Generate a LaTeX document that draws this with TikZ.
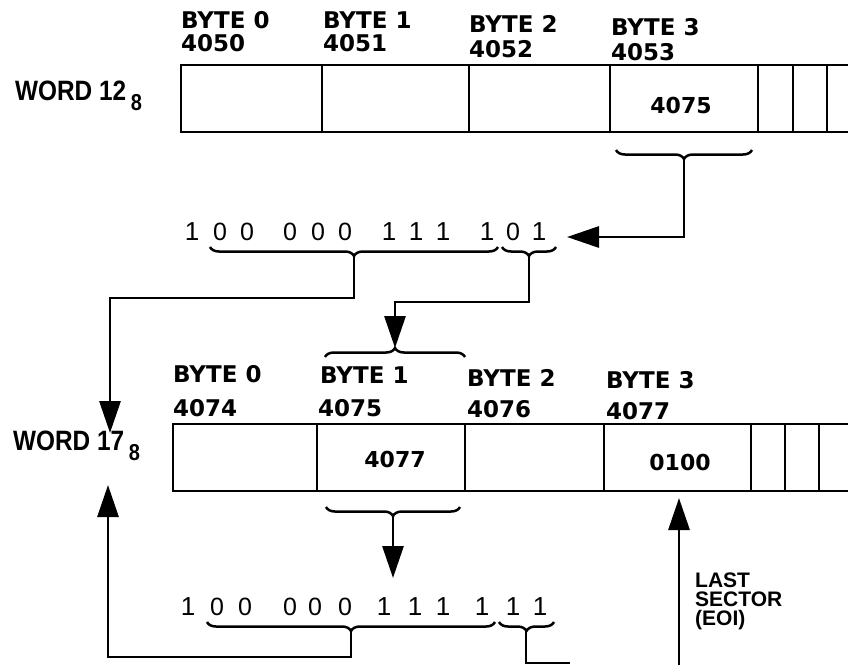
\documentclass[tikz,border=0pt]{standalone}
\usepackage{fontspec}
\setmainfont{DejaVu Sans}
\newfontfamily\helv{Liberation Sans}
\newfontfamily\helvn[FakeStretch=0.87]{Liberation Sans}
\usetikzlibrary{arrows.meta,decorations.pathreplacing}
\begin{document}
\begin{tikzpicture}[x=1pt,y=-1pt,
  ln/.style={line width=2.9pt},
  cell/.style={draw,line width=2.9pt,anchor=north west,minimum height=67pt,inner sep=0pt,outer sep=0pt},
  lab/.style={anchor=base west,inner sep=0pt,font=\bfseries\fontsize{23}{24}\selectfont},
  val/.style={anchor=base,inner sep=0pt,font=\bfseries\fontsize{22}{24}\selectfont},
  wordlab/.style={anchor=base west,inner sep=0pt,font=\helvn\bfseries\fontsize{28}{30}\selectfont},
  eoi/.style={anchor=north west,inner sep=0pt,align=left,font=\helv\bfseries\fontsize{21}{19}\selectfont},
  bit/.style={anchor=base,inner sep=0pt,font=\helv\fontsize{25}{26}\selectfont},
  bitone/.style={anchor=base,inner sep=0pt,font=\helv\fontsize{26}{28}\selectfont},
  brcu/.style={decorate,decoration={brace,amplitude=9pt},line width=2.5pt},
  brcd/.style={decorate,decoration={brace,mirror,amplitude=9pt},line width=2.5pt},
  arr/.style={line width=2.9pt,-{Triangle[length=32pt,width=21pt]}},
]
\useasboundingbox (0,0) rectangle (848,664);
\clip (0,0) rectangle (848,664);

% ---- word 12 ----
\node[wordlab] (word1) at (15,100) {WORD 12\,\raisebox{-10pt}{\fontsize{23}{23}\selectfont 8}};
\node[cell,minimum width=141pt] (w1c0) at (181,65) {};
\node[cell,minimum width=147pt] (w1c1) at (322,65) {};
\node[cell,minimum width=141pt] (w1c2) at (469,65) {};
\node[cell,minimum width=148pt] (w1c3) at (610,65) {};
\node[cell,minimum width=35pt] (w1c4) at (758,65) {};
\node[cell,minimum width=34pt] (w1c5) at (793,65) {};
\node[cell,minimum width=40pt] (w1c6) at (827,65) {};
\node[lab] (w1b0) at (181,28) {BYTE 0};
\node[lab] (w1a0) at (181,51) {4050};
\node[lab] (w1b1) at (323,28) {BYTE 1};
\node[lab] (w1a1) at (323,51) {4051};
\node[lab] (w1b2) at (469,32) {BYTE 2};
\node[lab] (w1a2) at (469,57) {4052};
\node[lab] (w1b3) at (611,35) {BYTE 3};
\node[lab] (w1a3) at (611,60) {4053};
\node[val] (w1v3) at (681,113) {4075};

% brace under byte 3 of word 12
\draw[brcd] (616,150) -- (752,150);
\coordinate (t1) at (684,159);
\coordinate (a1) at (567,237);
\draw[arr] (t1) |- (a1);

% ---- first bit string ----
\foreach \x/\d [count=\i] in {192/1,220/0,247/0,290/0,318/0,345/0,389/1,416/1,443/1,487/1,513/0,539/1}{
  \ifnum\d=1 \node[bitone] (ra\i) at (\x,240) {\d};
  \else \node[bit] (ra\i) at (\x,240) {\d}; \fi}
\draw[brcd] (210,247) -- (498,247);
\draw[brcd] (502,247) -- (556,247);
\coordinate (t2) at (354,256);
\coordinate (t3) at (529,256);
\coordinate (a2) at (110,433);
\draw[arr] (t2) |- (110,298) -- (a2);

% brace above byte 1 of word 17
\draw[brcu] (325,357) -- (465,357);
\coordinate (t4) at (395,348);
\draw[arr] (t3) |- (395,302) -- (t4);

% ---- word 17 ----
\node[wordlab] (word2) at (13,450) {WORD 17\,\raisebox{-10pt}{\fontsize{23}{23}\selectfont 8}};
\node[cell,minimum width=144pt] (w2c0) at (173,424) {};
\node[cell,minimum width=148pt] (w2c1) at (317,424) {};
\node[cell,minimum width=139pt] (w2c2) at (465,424) {};
\node[cell,minimum width=147pt] (w2c3) at (604,424) {};
\node[cell,minimum width=34pt] (w2c4) at (751,424) {};
\node[cell,minimum width=34pt] (w2c5) at (785,424) {};
\node[cell,minimum width=40pt] (w2c6) at (819,424) {};
\node[lab] (w2b0) at (173,382) {BYTE 0};
\node[lab] (w2a0) at (173,416) {4074};
\node[lab] (w2b1) at (320,383) {BYTE 1};
\node[lab] (w2a1) at (318,416) {4075};
\node[lab] (w2b2) at (467,386) {BYTE 2};
\node[lab] (w2a2) at (467,417) {4076};
\node[lab] (w2b3) at (606,388) {BYTE 3};
\node[lab] (w2a3) at (606,419) {4077};
\node[val] (w2v1) at (395,467) {4077};
\node[val] (w2v3) at (680,470) {0100};

% brace under byte 1 of word 17
\draw[brcd] (326,507) -- (460,507);
\coordinate (t5) at (393,516);
\coordinate (a5) at (393,578);
\draw[arr] (t5) -- (a5);

% ---- second bit string ----
\foreach \x/\d [count=\i] in {188/1,217/0,245/0,290/0,315/0,345/0,384/1,415/1,443/1,482/1,513/1,540/1}{
  \ifnum\d=1 \node[bitone] (rb\i) at (\x,615) {\d};
  \else \node[bit] (rb\i) at (\x,615) {\d}; \fi}
\draw[brcd] (207,622) -- (495,622);
\draw[brcd] (499,622) -- (554,622);
\coordinate (t6) at (351,631);
\coordinate (t7) at (526,631);
\coordinate (a6) at (108,485);
\draw[arr] (t6) |- (108,657) -- (a6);
\coordinate (e7) at (570,663);
\draw[ln] (t7) |- (e7);

% ---- last sector ----
\coordinate (ls) at (679,680);
\draw[arr,shorten >=7pt] (ls) -- (w2c3.south -| ls);
\node[eoi] (eoi) at (695,573) {LAST\\SECTOR\\(EOI)};
\end{tikzpicture}
\end{document}
